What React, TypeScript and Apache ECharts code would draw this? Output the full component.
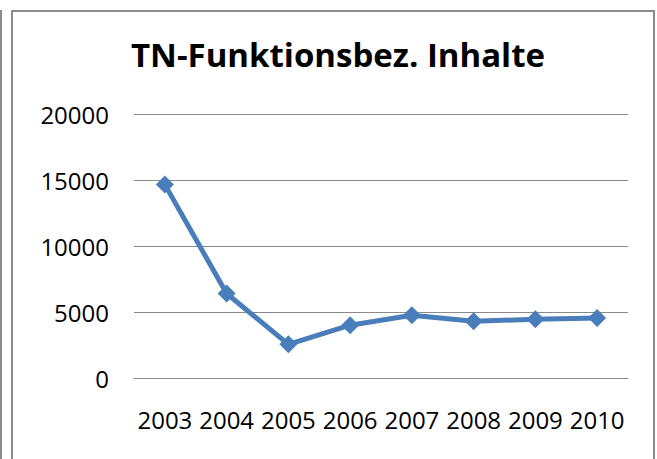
import React, { useEffect, useRef } from "react";
import * as echarts from "echarts";

const titleText = "TN-Funktionsbez. Inhalte";
const years = ["2003", "2004", "2005", "2006", "2007", "2008", "2009", "2010"];
const values = [14650, 6400, 2550, 4000, 4750, 4300, 4450, 4550];
const yTicks = { min: 0, max: 20000, interval: 5000 };

export default function App() {
  const ref = useRef<HTMLDivElement>(null);
  useEffect(() => {
    document.body.style.margin = "0";
    const chart = echarts.init(ref.current!, null, { renderer: "svg" });
    const font = "'Open Sans', 'Noto Sans', sans-serif";
    chart.setOption({
      animation: false,
      backgroundColor: "#ffffff",
      title: {
        text: titleText,
        left: 333,
        textAlign: "center",
        top: 33,
        textStyle: { fontFamily: font, fontWeight: "bold", fontSize: 33, color: "#000000" },
      },
      grid: { left: 134, right: 29, top: 114, bottom: 81 },
      xAxis: {
        type: "category",
        data: years,
        boundaryGap: true,
        axisLine: { show: true, lineStyle: { color: "#8a8a8a", width: 1 } },
        axisTick: { show: false },
        axisLabel: { fontFamily: font, fontSize: 24, color: "#000000", margin: 29, interval: 0, hideOverlap: false },
      },
      yAxis: {
        type: "value",
        min: yTicks.min,
        max: yTicks.max,
        interval: yTicks.interval,
        axisLine: { show: false },
        axisTick: { show: false },
        splitLine: { lineStyle: { color: "#8a8a8a", width: 1 } },
        axisLabel: { fontFamily: font, fontSize: 24, color: "#000000", margin: 25, formatter: (v: number) => String(v) },
      },
      series: [
        {
          type: "line",
          data: values,
          symbol: "diamond",
          symbolSize: 18,
          itemStyle: { color: "#4a7ebb" },
          lineStyle: { color: "#4a7ebb", width: 5 },
        },
      ],
      graphic: [
        { type: "line", shape: { x1: 1, y1: 10, x2: 1, y2: 459 }, style: { stroke: "#8c8c8c", lineWidth: 2 } },
        { type: "rect", shape: { x: 12, y: 11, width: 642, height: 460 }, style: { fill: "none", stroke: "#8c8c8c", lineWidth: 2 } },
      ],
    });
    return () => chart.dispose();
  }, []);
  return <div ref={ref} style={{ width: 657, height: 459 }} />;
}
